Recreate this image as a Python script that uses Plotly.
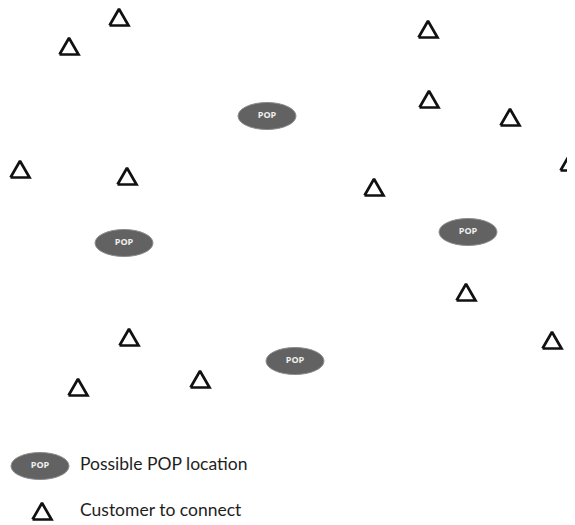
import plotly.graph_objects as go

# Customer locations (pixel-like coordinates, y downward)
cust_x = [119, 69, 428, 429, 510, 570, 20, 127, 374, 466, 129, 552, 200, 78]
cust_y = [18, 47, 30, 100, 118, 163, 170, 177, 188, 293, 338, 341, 380, 388]

# Possible POP locations
pop_x = [267, 124, 468, 295]
pop_y = [116, 243, 232, 361]
pop_label = ["POP", "POP", "POP", "POP"]

# Legend entries
legend_labels = ["Possible POP location", "Customer to connect"]
legend_y = [466, 512]

OFF = 8  # page body margin in the browser
W, H = 575, 525
POP_W, POP_H = 58, 27
TRI_HW, TRI_UP, TRI_DN = 9.5, 9, 7.5


def tri_path(xs, ys):
    px, py = [], []
    for x, y in zip(xs, ys):
        px += [x - TRI_HW, x + TRI_HW, x, x - TRI_HW, None]
        py += [y + TRI_DN, y + TRI_DN, y - TRI_UP, y + TRI_DN, None]
    return px, py


fig = go.Figure()

# customers
tx, ty = tri_path(cust_x, cust_y)
fig.add_trace(go.Scatter(x=tx, y=ty, mode="lines",
                         line=dict(color="#111111", width=2.7),
                         hoverinfo="skip", showlegend=False))

# legend triangle
lx, ly = tri_path([42], [legend_y[1]])
fig.add_trace(go.Scatter(x=lx, y=ly, mode="lines",
                         line=dict(color="#111111", width=2.7),
                         hoverinfo="skip", showlegend=False))

shapes = []
all_pop_x = pop_x + [40]
all_pop_y = pop_y + [legend_y[0]]
for x, y in zip(all_pop_x, all_pop_y):
    shapes.append(dict(type="circle", xref="x", yref="y",
                       x0=x - POP_W / 2, x1=x + POP_W / 2,
                       y0=y - POP_H / 2, y1=y + POP_H / 2,
                       fillcolor="#626262", line=dict(color="#8c8c8c", width=1),
                       layer="below"))

fig.add_trace(go.Scatter(x=all_pop_x, y=all_pop_y, mode="text",
                         text=["<b>" + t + "</b>" for t in pop_label + ["POP"]],
                         textfont=dict(color="#f0f0f0", size=9, family="Open Sans"),
                         hoverinfo="skip", showlegend=False))

# legend labels
fig.add_trace(go.Scatter(x=[80, 80], y=legend_y, mode="text",
                         text=legend_labels, textposition="middle right",
                         textfont=dict(color="#1e1e1e", size=17.5, family="Lato"),
                         hoverinfo="skip", showlegend=False))

fig.update_layout(
    width=W - OFF, height=H - OFF,
    margin=dict(l=0, r=0, t=0, b=0),
    paper_bgcolor="white", plot_bgcolor="white",
    shapes=shapes,
    xaxis=dict(range=[OFF, W], visible=False, fixedrange=True),
    yaxis=dict(range=[H, OFF], visible=False, fixedrange=True),
    showlegend=False,
)

fig.write_html("out.html")
